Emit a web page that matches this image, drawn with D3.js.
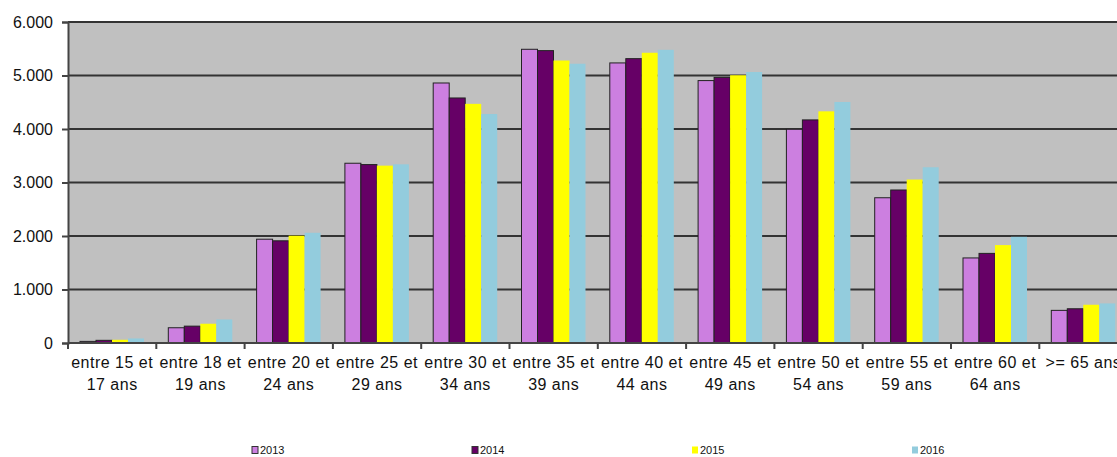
<!DOCTYPE html>
<html>
<head>
<meta charset="utf-8">
<script src="https://cdn.jsdelivr.net/npm/d3@7"></script>
<style>
  body { margin: 0; background: #fff; }
  text { font-family: Arial, "Liberation Sans", sans-serif; fill: #111; }
</style>
</head>
<body>
<div id="chart"></div>
<script>
// age groups, two label lines each
const categories = ['15-17','18-19','20-24','25-29','30-34','35-39','40-44','45-49','50-54','55-59','60-64','65+'];
const labelLine1 = ['entre 15 et','entre 18 et','entre 20 et','entre 25 et','entre 30 et','entre 35 et','entre 40 et','entre 45 et','entre 50 et','entre 55 et','entre 60 et','>= 65 ans'];
const labelLine2 = ['17 ans','19 ans','24 ans','29 ans','34 ans','39 ans','44 ans','49 ans','54 ans','59 ans','64 ans',''];

const years = ['2013','2014','2015','2016'];
const v2013 = [30, 285, 1940, 3360, 4860, 5490, 5235, 4905, 3995, 2715, 1590, 610];
const v2014 = [50, 315, 1910, 3335, 4580, 5465, 5315, 4965, 4170, 2860, 1675, 640];
const v2015 = [60, 360, 2005, 3315, 4470, 5280, 5425, 5005, 4330, 3055, 1830, 715];
const v2016 = [85, 440, 2060, 3340, 4280, 5220, 5480, 5065, 4505, 3285, 1985, 740];
const yTicks = [0, 1000, 2000, 3000, 4000, 5000, 6000];

const colors = ['#cc7fe0', '#660066', '#ffff00', '#93ccdd'];
const series = [v2013, v2014, v2015, v2016];

const W = 1117, H = 457;
const mLeft = 68, mTop = 22, mBottom = 343;
const bandW = 88.3;
const mRight = mLeft + bandW * categories.length;

const svg = d3.select('#chart').append('svg')
    .attr('width', W)
    .attr('height', H);

const x0 = d3.scaleBand().domain(categories).range([mLeft, mRight]);
const x1 = d3.scaleBand().domain(years).range([12, 76]);
const y = d3.scaleLinear().domain([0, 6000]).range([mBottom, mTop]);

// plot background
svg.append('rect')
    .attr('x', mLeft).attr('y', mTop)
    .attr('width', mRight - mLeft).attr('height', mBottom - mTop)
    .attr('fill', '#c0c0c0');

// gridlines
svg.selectAll('.grid').data(yTicks.filter(d => d > 0)).enter()
    .append('line')
        .attr('x1', mLeft).attr('x2', mRight)
        .attr('y1', d => y(d)).attr('y2', d => y(d))
        .attr('stroke', '#333').attr('stroke-width', 2);

// bars
const rows = categories.map((c, i) => ({cat: c, vals: series.map((s, k) => ({year: years[k], v: s[i], k: k}))}));
const groups = svg.selectAll('.grp').data(rows).enter()
    .append('g')
        .attr('transform', d => `translate(${x0(d.cat)},0)`);

groups.selectAll('rect').data(d => d.vals).enter()
    .append('rect')
        .attr('x', d => x1(d.year))
        .attr('y', d => y(d.v))
        .attr('width', x1.bandwidth())
        .attr('height', d => y(0) - y(d.v))
        .attr('fill', d => colors[d.k])
        .attr('stroke', d => d.k < 2 ? '#222' : 'none')
        .attr('stroke-width', 1);

// y axis
const yAxis = d3.axisLeft(y)
    .tickValues(yTicks)
    .tickSize(6)
    .tickPadding(9)
    .tickFormat(d => d === 0 ? '0' : d3.format(',')(d).replace(',', '.'));
const gy = svg.append('g').attr('transform', `translate(${mLeft},0)`).call(yAxis);
gy.select('.domain').attr('stroke', '#444').attr('stroke-width', 2);
gy.selectAll('.tick line').attr('stroke', '#444').attr('stroke-width', 2);
gy.selectAll('.tick text').attr('font-size', 16).attr('fill', '#111');

// x axis line and tick marks at band edges
svg.append('line')
    .attr('x1', mLeft).attr('x2', mRight)
    .attr('y1', mBottom).attr('y2', mBottom)
    .attr('stroke', '#444').attr('stroke-width', 2);
svg.selectAll('.xt').data(categories).enter()
    .append('line')
        .attr('x1', d => x0(d)).attr('x2', d => x0(d))
        .attr('y1', mBottom).attr('y2', mBottom + 6)
        .attr('stroke', '#444').attr('stroke-width', 2);

// x labels
const xl = svg.selectAll('.xl').data(categories).enter()
    .append('text')
        .attr('text-anchor', 'middle')
        .attr('font-size', 16)
        .attr('letter-spacing', 0.5);
xl.append('tspan')
    .attr('x', d => x0(d) + bandW / 2).attr('y', 368)
    .text((d, i) => labelLine1[i]);
xl.append('tspan')
    .attr('x', d => x0(d) + bandW / 2).attr('y', 390)
    .text((d, i) => labelLine2[i]);

// legend
const lg = svg.selectAll('.lg').data(years).enter()
    .append('g')
        .attr('transform', (d, i) => `translate(${252 + i * 220},450)`);
lg.append('rect')
    .attr('x', 0).attr('y', -3.5)
    .attr('width', 6).attr('height', 7)
    .attr('fill', (d, i) => colors[i])
    .attr('stroke', (d, i) => i < 2 ? '#333' : 'none');
lg.append('text')
    .attr('x', 8).attr('y', 4)
    .attr('font-size', 11)
    .text(d => d);
</script>
</body>
</html>
